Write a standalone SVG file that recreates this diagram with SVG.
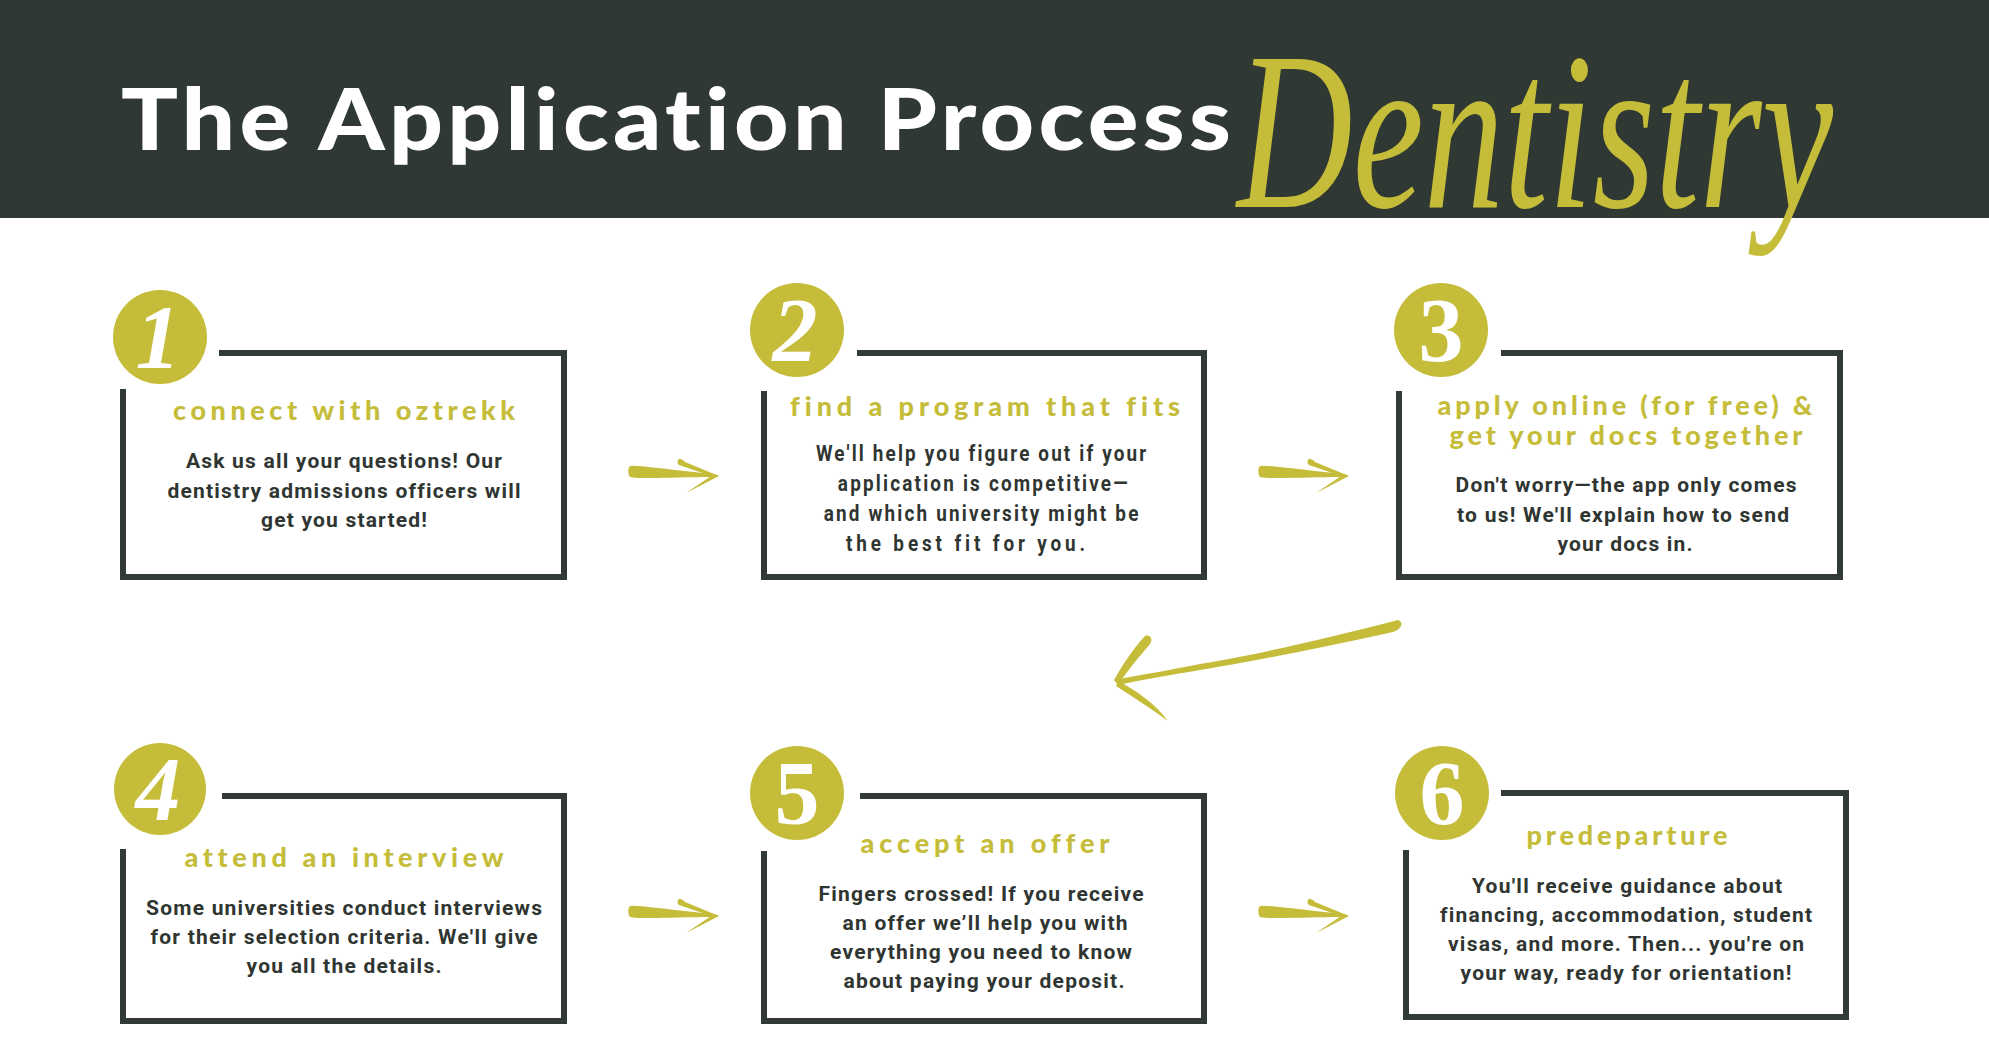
<svg xmlns="http://www.w3.org/2000/svg" xmlns:xlink="http://www.w3.org/1999/xlink" width="1989" height="1044" viewBox="0 0 1989 1044">
<style>
text{font-variant-ligatures:none;font-feature-settings:"liga" 0,"clig" 0}
.frame{fill:none;stroke:#323a35;stroke-width:6;stroke-linecap:butt;stroke-linejoin:miter}
.dot{fill:#c5bd3a}
.num{fill:#ffffff;font-family:"Liberation Serif","DejaVu Serif",serif;font-weight:700;font-size:90px;text-anchor:middle}
.it{font-style:italic}
.ttl{fill:#c5bd3a;font-family:Lato,"Open Sans",sans-serif;font-weight:900;font-size:27px;text-anchor:middle}
.body{fill:#2f3531;font-family:Roboto,"Liberation Sans",sans-serif;font-weight:700;font-size:21px;text-anchor:middle}
.cond{fill:#2f3531;font-family:Roboto,"Liberation Sans",sans-serif;font-weight:700;font-size:22px;text-anchor:middle}
.brush{fill:#c5bd3a}
</style>
<defs>
<g id="arrowR">
<path class="brush" d="M0,-5 C2,-7 6,-6 10,-6 C30,-4 55,-1 84,2 L84,5 C60,5 40,6 20,6 C12,6 5,6 1,5 C-1,3 -1,-2 0,-5 Z"/>
<path class="brush" d="M50,-13 C52,-14 55,-11 56,-10 L90,4 L85,5 L50,-7 C48,-8 48,-12 50,-13 Z"/>
<path class="brush" d="M90,4 L85,2 L57,21 L61,19 Z"/>
</g>
</defs>
<rect id="header-bg" x="0" y="0" width="1989" height="218" fill="#303833"/>
<g id="header">
<g transform="translate(121,150) scale(1.1,1)">
<text x="0" y="0" fill="#ffffff" font-family="Lato,'Open Sans',sans-serif" font-weight="900" font-size="86" textLength="1009" lengthAdjust="spacing">The Application Process</text>
</g>
<text x="1237" y="207" fill="#c5bd3a" font-family="'Liberation Serif','DejaVu Serif',serif" font-style="italic" font-size="225" textLength="596" lengthAdjust="spacingAndGlyphs">Dentistry</text>
</g>
<g id="connectors">
<use xlink:href="#arrowR" href="#arrowR" transform="translate(629,472)"/>
<use xlink:href="#arrowR" href="#arrowR" transform="translate(1259,472)"/>
<use xlink:href="#arrowR" href="#arrowR" transform="translate(629,912)"/>
<use xlink:href="#arrowR" href="#arrowR" transform="translate(1259,912)"/>
<g id="arrow-3-4">
<path class="brush" d="M1398,620 C1404,622 1402,629 1393,632 C1330,646 1250,662 1200,670 C1170,675 1140,680 1118,685 L1114,680 C1140,675 1170,670 1200,664 C1250,656 1320,640 1398,620 Z"/>
<path class="brush" d="M1145,636 C1151,634 1153,640 1150,644 C1138,658 1128,670 1120,682 L1114,680 C1122,666 1132,650 1145,636 Z"/>
<path class="brush" d="M1118,681 C1135,690 1155,703 1168,721 C1150,708 1133,697 1116,686 Z"/>
</g>
</g>
<g id="node1">
<path class="frame" d="M123,389 V577 H564 V353 H219"/>
<circle class="dot" cx="160" cy="337" r="47"/>
<text class="num it" x="158" y="368">1</text>
<text class="ttl" x="344" y="420" textLength="342" lengthAdjust="spacing">connect with oztrekk</text>
<text class="body" x="344" y="468" textLength="316" lengthAdjust="spacing">Ask us all your questions! Our</text>
<text class="body" x="344" y="498" textLength="353" lengthAdjust="spacing">dentistry admissions officers will</text>
<text class="body" x="344" y="527" textLength="166" lengthAdjust="spacing">get you started!</text>
</g>
<g id="node2">
<path class="frame" d="M764,391 V577 H1204 V353 H857"/>
<circle class="dot" cx="797" cy="330" r="47"/>
<text class="num it" x="795" y="361">2</text>
<text class="ttl" x="985" y="416" textLength="390" lengthAdjust="spacing">find a program that fits</text>
<g transform="translate(981,0) scale(0.86,1)">
<text class="cond" x="0" y="461" textLength="384" lengthAdjust="spacing">We'll help you figure out if your</text>
<text class="cond" x="2" y="491" textLength="337" lengthAdjust="spacing">application is competitive—</text>
<text class="cond" x="0" y="521" textLength="366" lengthAdjust="spacing">and which university might be</text>
<text class="cond" x="-18" y="551" textLength="278" lengthAdjust="spacing">the best fit for you.</text>
</g>
</g>
<g id="node3">
<path class="frame" d="M1399,391 V577 H1840 V353 H1501"/>
<circle class="dot" cx="1441" cy="330" r="47"/>
<text class="num" x="1441" y="361">3</text>
<text class="ttl" x="1625" y="415" textLength="375" lengthAdjust="spacing">apply online (for free) &amp;</text>
<text class="ttl" x="1626" y="445" textLength="353" lengthAdjust="spacing">get your docs together</text>
<text class="body" x="1626" y="492" textLength="341" lengthAdjust="spacing">Don't worry—the app only comes</text>
<text class="body" x="1623" y="522" textLength="332" lengthAdjust="spacing">to us! We'll explain how to send</text>
<text class="body" x="1625" y="551" textLength="135" lengthAdjust="spacing">your docs in.</text>
</g>
<g id="node4">
<path class="frame" d="M123,849 V1021 H564 V796 H222"/>
<circle class="dot" cx="160" cy="789" r="46"/>
<text class="num it" x="158" y="820">4</text>
<text class="ttl" x="344" y="867" textLength="319" lengthAdjust="spacing">attend an interview</text>
<text class="body" x="344" y="915" textLength="396" lengthAdjust="spacing">Some universities conduct interviews</text>
<text class="body" x="344" y="944" textLength="387" lengthAdjust="spacing">for their selection criteria. We'll give</text>
<text class="body" x="344" y="973" textLength="195" lengthAdjust="spacing">you all the details.</text>
</g>
<g id="node5">
<path class="frame" d="M764,851 V1021 H1204 V796 H860"/>
<circle class="dot" cx="797" cy="793" r="47"/>
<text class="num" x="797" y="824">5</text>
<text class="ttl" x="985" y="853" textLength="249" lengthAdjust="spacing">accept an offer</text>
<text class="body" x="981" y="901" textLength="325" lengthAdjust="spacing">Fingers crossed! If you receive</text>
<text class="body" x="985" y="930" textLength="285" lengthAdjust="spacing">an offer we’ll help you with</text>
<text class="body" x="981" y="959" textLength="302" lengthAdjust="spacing">everything you need to know</text>
<text class="body" x="984" y="988" textLength="281" lengthAdjust="spacing">about paying your deposit.</text>
</g>
<g id="node6">
<path class="frame" d="M1406,850 V1017 H1846 V793 H1501"/>
<circle class="dot" cx="1442" cy="793" r="47"/>
<text class="num" x="1442" y="824">6</text>
<text class="ttl" x="1627" y="845" textLength="201" lengthAdjust="spacing">predeparture</text>
<text class="body" x="1627" y="893" textLength="310" lengthAdjust="spacing">You'll receive guidance about</text>
<text class="body" x="1626" y="922" textLength="372" lengthAdjust="spacing">financing, accommodation, student</text>
<text class="body" x="1626" y="951" textLength="356" lengthAdjust="spacing">visas, and more. Then... you're on</text>
<text class="body" x="1626" y="980" textLength="331" lengthAdjust="spacing">your way, ready for orientation!</text>
</g>
</svg>
